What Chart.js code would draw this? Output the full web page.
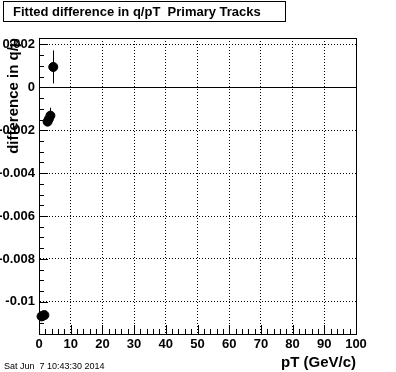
<!DOCTYPE html>
<html>
<head>
<meta charset="utf-8">
<script src="https://cdn.jsdelivr.net/npm/chart.js@4.4.1/dist/chart.umd.min.js"></script>
<style>
  body { margin: 0; background: #fff; }
  #wrap { width: 396px; height: 372px; position: relative; }
</style>
</head>
<body>
<div id="wrap"><canvas id="myChart"></canvas></div>
<script>
// valeurs
var ptValues   = [0.8, 1.2, 1.7, 2.7, 3.1, 3.6, 4.5];
var diffValues = [-0.01068, -0.01065, -0.01062, -0.0016, -0.00148, -0.00132, 0.00095];
var diffErrors = [0.0001, 0.0001, 0.0001, 0.0002, 0.0003, 0.00037, 0.00077];
var xTicks = [0, 10, 20, 30, 40, 50, 60, 70, 80, 90, 100];
var yTicks = [-0.01, -0.008, -0.006, -0.004, -0.002, 0, 0.002];

var points = ptValues.map(function (x, i) {
    return { x: x, y: diffValues[i], err: diffErrors[i] };
});

var boldFont = { family: 'Liberation Sans, Arial, sans-serif', size: 13, weight: 'bold' };
var titleFont = { family: 'Liberation Sans, Arial, sans-serif', size: 15, weight: 'bold' };

// décor façon ROOT : cadre, ligne du zéro, petites graduations, barres d'erreur, titre
var rootDecor = {
    id: 'rootDecor',
    beforeDatasetsDraw: function (chart) {
        var ctx = chart.ctx, xs = chart.scales.x, ys = chart.scales.y;
        ctx.save();
        ctx.strokeStyle = '#000';
        ctx.lineWidth = 1;
        points.forEach(function (p) {
            var px = Math.round(xs.getPixelForValue(p.x)) + 0.5;
            ctx.beginPath();
            ctx.moveTo(px, ys.getPixelForValue(p.y + p.err));
            ctx.lineTo(px, ys.getPixelForValue(p.y - p.err));
            ctx.stroke();
        });
        ctx.restore();
    },
    afterDraw: function (chart) {
        var ctx = chart.ctx, a = chart.chartArea;
        var xs = chart.scales.x, ys = chart.scales.y;
        ctx.save();
        ctx.strokeStyle = '#000';
        ctx.lineWidth = 1;
        ctx.strokeRect(Math.round(a.left) + 0.5, Math.round(a.top) + 0.5,
                       Math.round(a.right - a.left), Math.round(a.bottom - a.top));

        // ligne du zéro
        var y0 = Math.round(ys.getPixelForValue(0)) + 0.5;
        ctx.beginPath();
        ctx.moveTo(a.left, y0);
        ctx.lineTo(a.right, y0);
        ctx.stroke();

        // graduations vers l'intérieur
        ctx.beginPath();
        for (var k = -23; k <= 4; k++) {
            var py = Math.round(ys.getPixelForValue(k * 0.0005)) + 0.5;
            if (py < a.top || py > a.bottom) continue;
            var len = (k % 4 === 0) ? 9 : 5;
            ctx.moveTo(a.left, py);
            ctx.lineTo(a.left + len, py);
        }
        for (var j = 0; j <= 50; j++) {
            var px = Math.round(xs.getPixelForValue(j * 2)) + 0.5;
            var l2 = (j % 5 === 0) ? 9 : 5;
            ctx.moveTo(px, a.bottom);
            ctx.lineTo(px, a.bottom - l2);
        }
        ctx.stroke();

        // boîte du titre
        ctx.strokeRect(3.5, 1.5, 282, 20);
        ctx.fillStyle = '#000';
        ctx.font = 'bold 13px "Liberation Sans", Arial, sans-serif';
        ctx.textBaseline = 'middle';
        ctx.textAlign = 'left';
        ctx.fillText('Fitted difference in q/pT  Primary Tracks', 13, 12);

        // date
        ctx.font = '9px "Liberation Sans", Arial, sans-serif';
        ctx.textBaseline = 'alphabetic';
        ctx.fillText('Sat Jun  7 10:43:30 2014', 4, 369);
        ctx.restore();
    }
};

var ctx = document.getElementById('myChart').getContext('2d');
var myChart = new Chart(ctx, {
    type: 'scatter',
    data: {
        datasets: [{
            label: 'diff',
            data: points,
            backgroundColor: '#000',
            borderColor: '#000',
            pointRadius: 4.5,
            pointHoverRadius: 4.5,
            clip: false
        }]
    },
    options: {
        responsive: true,
        maintainAspectRatio: false,
        animation: false,
        events: [],
        layout: { padding: { left: 0, right: 40, top: 38, bottom: 0 } },
        plugins: {
            legend: { display: false },
            tooltip: { enabled: false },
            title: { display: false }
        },
        scales: {
            x: {
                type: 'linear',
                min: 0,
                max: 100,
                afterBuildTicks: function (scale) {
                    scale.ticks = xTicks.map(function (v) { return { value: v }; });
                },
                afterFit: function (scale) { scale.height = 38; },
                ticks: { color: '#000', font: boldFont, padding: 3, maxRotation: 0 },
                grid: { color: '#000', drawTicks: false, lineWidth: 1 },
                border: { color: '#000', dash: [1, 2] },
                title: {
                    display: true, text: 'pT (GeV/c)', align: 'end', color: '#000',
                    font: titleFont, padding: { top: 0, bottom: 0 }
                }
            },
            y: {
                type: 'linear',
                min: -0.0115,
                max: 0.0023,
                afterBuildTicks: function (scale) {
                    scale.ticks = yTicks.map(function (v) { return { value: v }; });
                },
                afterFit: function (scale) { scale.width = 39; },
                ticks: {
                    color: '#000', font: boldFont, padding: 4,
                    callback: function (v) { return String(parseFloat(v.toFixed(4))); }
                },
                grid: { color: '#000', drawTicks: false, lineWidth: 1 },
                border: { color: '#000', dash: [1, 2] },
                title: {
                    display: true, text: 'difference in q/p', align: 'end', color: '#000',
                    font: titleFont, padding: { top: 5, bottom: 0 }
                }
            }
        }
    },
    plugins: [rootDecor]
});
</script>
</body>
</html>
